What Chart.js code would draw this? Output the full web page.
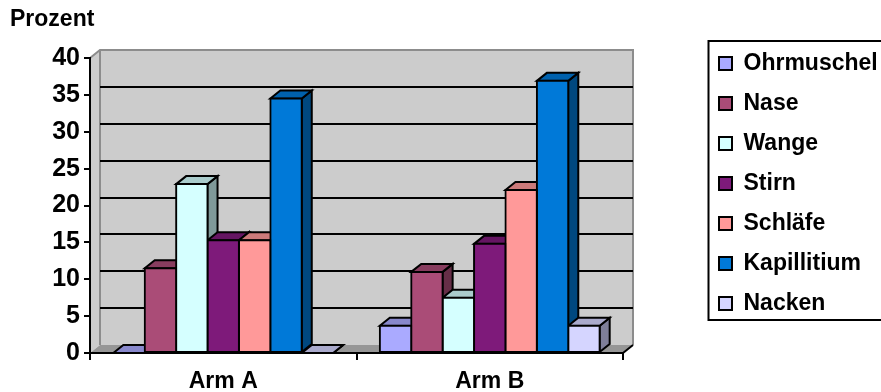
<!DOCTYPE html>
<html><head><meta charset="utf-8">
<style>html,body{margin:0;padding:0;background:#fff}canvas{display:block}</style>
<script src="https://cdn.jsdelivr.net/npm/chart.js@4/dist/chart.umd.min.js"></script>
</head><body>
<canvas id="c" width="881" height="392"></canvas>
<script>
const categories = ['Arm A', 'Arm B'];
const seriesNames = ['Ohrmuschel', 'Nase', 'Wange', 'Stirn', 'Schläfe', 'Kapillitium', 'Nacken'];
const ohrmuschel = [0, 3.7];
const nase = [11.5, 11];
const wange = [22.9, 7.5];
const stirn = [15.3, 14.8];
const schlaefe = [15.3, 22.1];
const kapillitium = [34.5, 36.9];
const nacken = [0, 3.7];
const seriesValues = [ohrmuschel, nase, wange, stirn, schlaefe, kapillitium, nacken];
const colors = ['#aaaaff', '#aa4c77', '#d5ffff', '#7e1a7a', '#ff9999', '#0079d8', '#d5d5ff'];
const topColors = ['#8888cc', '#883d5f', '#aacccc', '#651562', '#cc7a7a', '#0061ad', '#aaaacc'];
const sideColors = ['#66668f', '#662e47', '#7f9999', '#4c1049', '#995c5c', '#00487f', '#7f7f99'];
const font = '"Liberation Sans", Arial, sans-serif';
const DX = 10, DY = 8;

function poly(ctx, pts, fill, stroke, lw) {
  ctx.beginPath();
  pts.forEach((p, i) => i ? ctx.lineTo(p[0], p[1]) : ctx.moveTo(p[0], p[1]));
  ctx.closePath();
  if (fill) { ctx.fillStyle = fill; ctx.fill(); }
  if (stroke) { ctx.strokeStyle = stroke; ctx.lineWidth = lw; ctx.stroke(); }
}

const box3d = {
  id: 'box3d',
  beforeLayout(chart) {
    const l = chart.legend;
    if (l && !l._wrapped) {
      const f = l.fit.bind(l);
      l.fit = () => { f(); l.width = 258; };
      l._wrapped = true;
    }
  },
  afterLayout(chart) {
    chart.legend.left = 702;
    chart.legend.right = 881;
    chart.legend.top = 35;
  },
  beforeDraw(chart) {
    const { ctx, chartArea: a } = chart;
    const { left: l, right: r, top: t, bottom: b } = a;
    ctx.save();
    poly(ctx, [[l + DX, t - DY], [r + DX, t - DY], [r + DX, b - DY], [l + DX, b - DY]], '#cccccc');
    poly(ctx, [[l, t], [l + DX, t - DY], [l + DX, b - DY], [l, b]], '#cccccc');
    poly(ctx, [[l, b], [l + DX, b - DY], [r + DX, b - DY], [r, b]], '#969696');
    ctx.strokeStyle = '#8c8c8c'; ctx.lineWidth = 2;
    ctx.beginPath();
    ctx.moveTo(l, t); ctx.lineTo(l + DX, t - DY); ctx.lineTo(r + DX, t - DY); ctx.lineTo(r + DX, b - DY);
    ctx.moveTo(l + DX, t - DY); ctx.lineTo(l + DX, b - DY);
    ctx.stroke();
    const y = chart.scales.y;
    ctx.strokeStyle = '#000'; ctx.lineWidth = 2;
    ctx.beginPath();
    y.ticks.forEach(tk => {
      if (tk.value === 0 || tk.value === y.max) return;
      const py = Math.round(y.getPixelForValue(tk.value)) - DY;
      ctx.moveTo(l + DX, py); ctx.lineTo(r + DX, py);
    });
    ctx.stroke();
    ctx.beginPath(); ctx.moveTo(r, b); ctx.lineTo(r + DX, b - DY); ctx.stroke();
    ctx.strokeStyle = '#000'; ctx.lineWidth = 2;
    ctx.strokeRect(708.5, 41, 180, 279);
    ctx.restore();
  },
  beforeDatasetsDraw(chart) {
    const ctx = chart.ctx;
    ctx.save();
    ctx.lineJoin = 'miter';
    chart.data.datasets.forEach((ds, i) => {
      chart.getDatasetMeta(i).data.forEach(el => {
        const p = el.getProps(['x', 'y', 'base', 'width'], true);
        const x0 = p.x - p.width / 2, x1 = p.x + p.width / 2;
        poly(ctx, [[x1, p.y], [x1 + DX, p.y - DY], [x1 + DX, p.base - DY], [x1, p.base]], sideColors[i], '#000', 2);
        poly(ctx, [[x0, p.y], [x0 + DX, p.y - DY], [x1 + DX, p.y - DY], [x1, p.y]], topColors[i], '#000', 2);
      });
    });
    ctx.restore();
  }
};

new Chart(document.getElementById('c'), {
  type: 'bar',
  data: {
    labels: categories,
    datasets: seriesNames.map((name, i) => ({
      label: name,
      data: seriesValues[i],
      backgroundColor: colors[i],
      borderColor: '#000',
      borderWidth: 2,
      borderSkipped: false,
      inflateAmount: 1,
      categoryPercentage: 0.825,
      barPercentage: 1
    }))
  },
  plugins: [box3d],
  options: {
    responsive: false,
    animation: false,
    layout: { padding: { left: 10, right: 0, top: 0, bottom: 0 } },
    plugins: {
      tooltip: { enabled: false },
      title: {
        display: true, text: 'Prozent', align: 'start', color: '#000',
        font: { family: font, weight: 'bold', size: 23 },
        padding: { top: 6, bottom: 24.4 }
      },
      legend: {
        display: true, position: 'right', align: 'start',
        labels: {
          color: '#000', boxWidth: 13, boxHeight: 13, padding: 17,
          font: { family: font, weight: 'bold', size: 23 }
        }
      }
    },
    scales: {
      x: {
        afterFit(s) { s.height = 39; },
        grid: { drawOnChartArea: false, tickLength: 7, color: '#000', lineWidth: 2, offset: true },
        border: { color: '#000', width: 2 },
        ticks: { color: '#000', padding: 8, maxRotation: 0, font: { family: font, weight: 'bold', size: 23 } }
      },
      y: {
        min: 0, max: 40,
        afterFit(s) { s.width = 80; },
        grid: { drawOnChartArea: false, tickLength: 6, color: '#000', lineWidth: 2 },
        border: { color: '#000', width: 2 },
        ticks: { stepSize: 5, color: '#000', padding: 4, font: { family: font, weight: 'bold', size: 25 } }
      }
    }
  }
});
</script>
</body></html>
